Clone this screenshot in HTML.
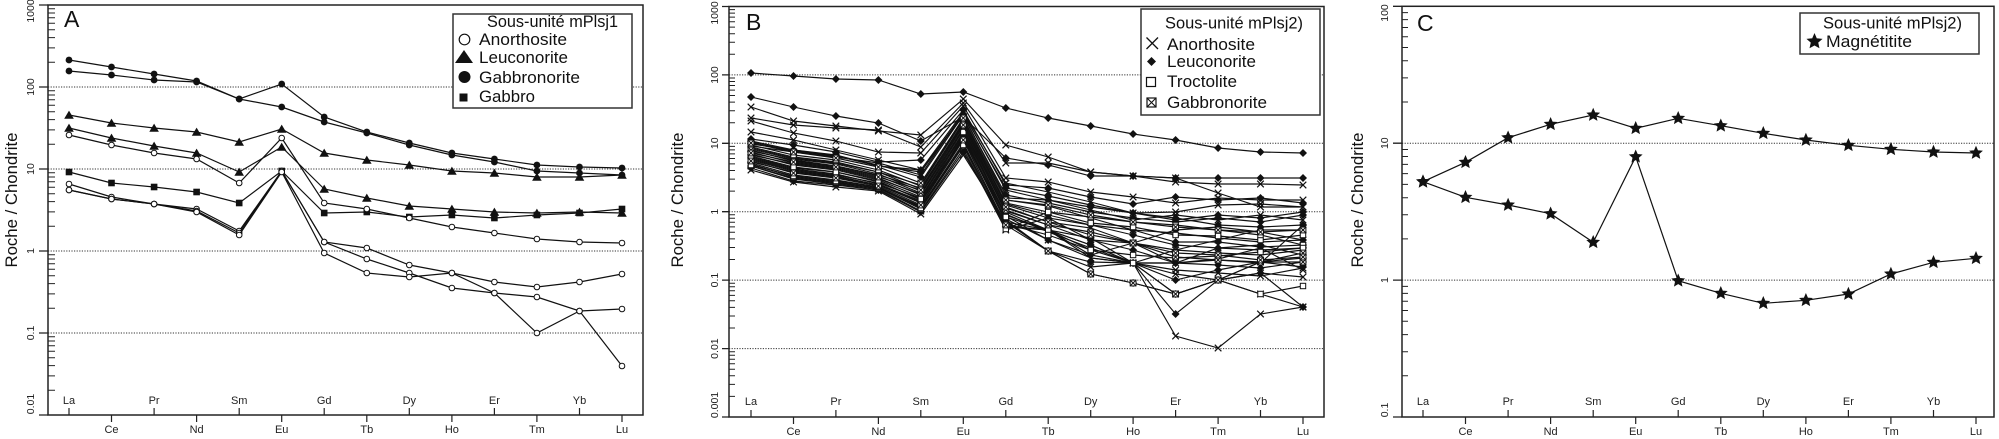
<!DOCTYPE html>
<html><head><meta charset="utf-8"><style>
html,body{margin:0;padding:0;background:#fff;width:1999px;height:439px;overflow:hidden}
svg{display:block}
text{font-family:"Liberation Sans",Arial,sans-serif;fill:#111}
.tk{font-size:11px;text-anchor:middle;fill:#222}
.yl{font-size:10.5px;text-anchor:middle;fill:#222}
.lg{font-size:16.5px}
.ax{font-size:17px;text-anchor:middle}
</style></head><body>
<svg width="1999" height="439" viewBox="0 0 1999 439" xmlns="http://www.w3.org/2000/svg">
<defs>
<marker id="oc" markerUnits="userSpaceOnUse" markerWidth="20" markerHeight="20" refX="10" refY="10"><circle cx="10" cy="10" r="2.8" fill="#fff" stroke="#111" stroke-width="1"/></marker>
<marker id="fc" markerUnits="userSpaceOnUse" markerWidth="20" markerHeight="20" refX="10" refY="10"><circle cx="10" cy="10" r="3.4" fill="#111"/></marker>
<marker id="tr" markerUnits="userSpaceOnUse" markerWidth="20" markerHeight="20" refX="10" refY="10"><polygon points="10,5.6 14.8,13.8 5.2,13.8" fill="#111"/></marker>
<marker id="sq" markerUnits="userSpaceOnUse" markerWidth="20" markerHeight="20" refX="10" refY="10"><rect x="6.7" y="6.7" width="6.6" height="6.6" fill="#111"/></marker>
<marker id="st" markerUnits="userSpaceOnUse" markerWidth="20" markerHeight="20" refX="10" refY="10"><polygon points="10,3.5 11.76,7.57 16.18,7.99 12.85,10.93 13.82,15.26 10,13 6.18,15.26 7.15,10.93 3.82,7.99 8.24,7.57" fill="#111" stroke="#111" stroke-width="0.6"/></marker>
<marker id="bd" markerUnits="userSpaceOnUse" markerWidth="20" markerHeight="20" refX="10" refY="10"><polygon points="10,6 14,10 10,14 6,10" fill="#111"/></marker>
<marker id="bx" markerUnits="userSpaceOnUse" markerWidth="20" markerHeight="20" refX="10" refY="10"><path d="M6.7,6.7L13.3,13.3M13.3,6.7L6.7,13.3" stroke="#111" stroke-width="1.2" fill="none"/></marker>
<marker id="bs" markerUnits="userSpaceOnUse" markerWidth="20" markerHeight="20" refX="10" refY="10"><rect x="7.3" y="7.3" width="5.4" height="5.4" fill="#fff" stroke="#111" stroke-width="1"/></marker>
<marker id="bq" markerUnits="userSpaceOnUse" markerWidth="20" markerHeight="20" refX="10" refY="10"><rect x="7.1" y="7.1" width="5.8" height="5.8" fill="#fff" stroke="#111" stroke-width="1"/><path d="M7.1,7.1L12.9,12.9M12.9,7.1L7.1,12.9" stroke="#111" stroke-width="1"/></marker>
</defs>

<!-- ================= PANEL A ================= -->
<path d="M48,87H643M48,169H643M48,251H643M48,333H643" stroke="#333" stroke-width="1" stroke-dasharray="1.2,1.4" fill="none"/>
<g fill="none" stroke="#111" stroke-width="1.2">
<g marker-start="url(#fc)" marker-mid="url(#fc)" marker-end="url(#fc)">
<polyline points="69,60 111.5,67 154.1,74 196.6,81 239.2,99 281.7,84 324.2,117 366.8,132 409.3,143 451.9,153 494.4,159 536.9,165 579.5,167 622,168"/>
<polyline points="69,71 111.5,75 154.1,80 196.6,82 239.2,99 281.7,107 324.2,122 366.8,133 409.3,145 451.9,155 494.4,162 536.9,171 579.5,173 622,175"/>
</g>
<g marker-start="url(#tr)" marker-mid="url(#tr)" marker-end="url(#tr)">
<polyline points="69,115 111.5,123 154.1,128 196.6,132 239.2,142 281.7,129 324.2,153 366.8,160 409.3,165 451.9,171 494.4,173 536.9,177 579.5,177 622,175"/>
<polyline points="69,128 111.5,138 154.1,146 196.6,153 239.2,172 281.7,147 324.2,189 366.8,198 409.3,206 451.9,209 494.4,212 536.9,213 579.5,212 622,213"/>
</g>
<g marker-start="url(#sq)" marker-mid="url(#sq)" marker-end="url(#sq)">
<polyline points="69,172 111.5,183 154.1,187 196.6,192 239.2,203 281.7,171 324.2,213 366.8,212 409.3,217 451.9,215 494.4,218 536.9,215 579.5,213 622,209"/>
</g>
<g marker-start="url(#oc)" marker-mid="url(#oc)" marker-end="url(#oc)">
<polyline points="69,135 111.5,145 154.1,153 196.6,159 239.2,183 281.7,138 324.2,203 366.8,209 409.3,218 451.9,227 494.4,233 536.9,239 579.5,242 622,243"/>
<polyline points="69,184 111.5,197 154.1,204 196.6,209 239.2,231 281.7,171 324.2,242 366.8,248 409.3,265 451.9,273 494.4,282 536.9,287 579.5,282 622,274"/>
<polyline points="69,190 111.5,199 154.1,204 196.6,211 239.2,233 281.7,171 324.2,242 366.8,259 409.3,273 451.9,288 494.4,293 536.9,297 579.5,311 622,309"/>
<polyline points="69,190 111.5,199 154.1,204 196.6,212 239.2,235 281.7,172 324.2,253 366.8,273 409.3,277 451.9,273 494.4,293 536.9,333 579.5,311 622,366"/>
</g>
</g>
<!-- legend A -->
<rect x="453" y="14" width="179" height="94" fill="#fff" stroke="#333" stroke-width="1.5"/>
<text class="lg" x="487" y="27" textLength="131" lengthAdjust="spacingAndGlyphs">Sous-unité mPlsj1</text>
<circle cx="464.5" cy="39.5" r="5.3" fill="#fff" stroke="#111" stroke-width="1.2"/>
<text class="lg" x="479" y="45" textLength="88" lengthAdjust="spacingAndGlyphs">Anorthosite</text>
<polygon points="464,50 473,63 455,63" fill="#111"/>
<text class="lg" x="479" y="63" textLength="89" lengthAdjust="spacingAndGlyphs">Leuconorite</text>
<circle cx="464.5" cy="77" r="6" fill="#111"/>
<text class="lg" x="479" y="83" textLength="101" lengthAdjust="spacingAndGlyphs">Gabbronorite</text>
<rect x="459.5" y="93.5" width="8" height="8" fill="#111"/>
<text class="lg" x="479" y="102" textLength="56" lengthAdjust="spacingAndGlyphs">Gabbro</text>
<!-- axes A -->
<rect x="48" y="5" width="595" height="410" fill="none" stroke="#222" stroke-width="1.5"/>
<path d="M39,5H48M39,87H48M39,169H48M39,251H48M39,333H48M39,415H48" stroke="#222" stroke-width="1.3"/>
<path d="M48,390.3h7M48,375.9h7M48,365.6h7M48,357.7h7M48,351.2h7M48,345.7h7M48,341h7M48,336.7h7M48,308.3h7M48,293.9h7M48,283.6h7M48,275.7h7M48,269.2h7M48,263.7h7M48,259h7M48,254.7h7M48,226.3h7M48,211.9h7M48,201.6h7M48,193.7h7M48,187.2h7M48,181.7h7M48,177h7M48,172.7h7M48,144.3h7M48,129.9h7M48,119.6h7M48,111.7h7M48,105.2h7M48,99.7h7M48,95h7M48,90.7h7M48,62.3h7M48,47.9h7M48,37.6h7M48,29.7h7M48,23.2h7M48,17.7h7M48,13h7M48,8.7h7" stroke="#222" stroke-width="1"/>
<path d="M69,415v-7M154.1,415v-7M239.2,415v-7M324.2,415v-7M409.3,415v-7M494.4,415v-7M579.5,415v-7M111.5,415v7M196.6,415v7M281.7,415v7M366.8,415v7M451.9,415v7M536.9,415v7M622,415v7" stroke="#222" stroke-width="1.2"/>
<text class="tk" x="69" y="404">La</text><text class="tk" x="154.1" y="404">Pr</text><text class="tk" x="239.2" y="404">Sm</text><text class="tk" x="324.2" y="404">Gd</text><text class="tk" x="409.3" y="404">Dy</text><text class="tk" x="494.4" y="404">Er</text><text class="tk" x="579.5" y="404">Yb</text>
<text class="tk" x="111.5" y="433">Ce</text><text class="tk" x="196.6" y="433">Nd</text><text class="tk" x="281.7" y="433">Eu</text><text class="tk" x="366.8" y="433">Tb</text><text class="tk" x="451.9" y="433">Ho</text><text class="tk" x="536.9" y="433">Tm</text><text class="tk" x="622" y="433">Lu</text>
<text class="yl" transform="translate(34,11) rotate(-90)">1000</text>
<text class="yl" transform="translate(34,87) rotate(-90)">100</text>
<text class="yl" transform="translate(34,169) rotate(-90)">10</text>
<text class="yl" transform="translate(34,251) rotate(-90)">1</text>
<text class="yl" transform="translate(34,333) rotate(-90)">0.1</text>
<text class="yl" transform="translate(34,404) rotate(-90)">0.01</text>
<text class="ax" transform="translate(17,200) rotate(-90)" textLength="135" lengthAdjust="spacingAndGlyphs">Roche / Chondrite</text>
<text x="64" y="27" font-size="23">A</text>

<!-- ================= PANEL B ================= -->
<path d="M729,74.9H1324M729,143.3H1324M729,211.7H1324M729,280.1H1324M729,348.6H1324" stroke="#333" stroke-width="1" stroke-dasharray="1.2,1.4" fill="none"/>
<g fill="none" stroke="#111" stroke-width="1.15">
<g marker-start="url(#bd)" marker-mid="url(#bd)" marker-end="url(#bd)">
<polyline points="751,73 793.5,76 835.9,79 878.4,80 920.8,94 963.3,92 1005.8,108 1048.2,118 1090.7,126 1133.1,134 1175.6,140 1218.1,148 1260.5,152 1303,153"/>
<polyline points="751,97 793.5,107 835.9,116 878.4,123 920.8,141 963.3,117 1005.8,158 1048.2,165 1090.7,176 1133.1,176 1175.6,178 1218.1,178 1260.5,178 1303,178"/>
<polyline points="751,139 793.5,145 835.9,152 878.4,162 920.8,160 963.3,110 1005.8,185 1048.2,188 1090.7,197 1133.1,204 1175.6,197 1218.1,200 1260.5,198 1303,203"/>
<polyline points="751,141 793.5,150 835.9,156 878.4,165 920.8,177 963.3,115 1005.8,198 1048.2,200 1090.7,207 1133.1,213 1175.6,218 1218.1,225 1260.5,227 1303,225"/>
<polyline points="751,147 793.5,157 835.9,162 878.4,172 920.8,189 963.3,122 1005.8,205 1048.2,218 1090.7,225 1133.1,230 1175.6,242 1218.1,242 1260.5,247 1303,245"/>
<polyline points="751,152 793.5,163 835.9,168 878.4,178 920.8,195 963.3,128 1005.8,212 1048.2,230 1090.7,238 1133.1,263 1175.6,263 1218.1,260 1260.5,263 1303,225"/>
<polyline points="751,158 793.5,169 835.9,174 878.4,184 920.8,201 963.3,134 1005.8,220 1048.2,251 1090.7,262 1133.1,263 1175.6,314 1218.1,280 1260.5,273 1303,307"/>
<polyline points="751,163 793.5,175 835.9,180 878.4,187 920.8,207 963.3,143 1005.8,227 1048.2,230 1090.7,255 1133.1,243 1175.6,230 1218.1,227 1260.5,232 1303,240"/>
<polyline points="751,168 793.5,181 835.9,185 878.4,190 920.8,212 963.3,152 1005.8,226 1048.2,230 1090.7,245 1133.1,263 1175.6,263 1218.1,248 1260.5,245 1303,255"/>
<polyline points="751,144 793.5,150 835.9,155 878.4,166 920.8,170 963.3,116 1005.8,195 1048.2,203 1090.7,212 1133.1,218 1175.6,222 1218.1,218 1260.5,222 1303,215"/>
<polyline points="751,166 793.5,178 835.9,183 878.4,188 920.8,206 963.3,135 1005.8,221 1048.2,251 1090.7,274 1133.1,283 1175.6,294 1218.1,280 1260.5,262 1303,267"/>
<polyline points="751,142 793.5,151 835.9,156 878.4,166 920.8,172 963.3,114 1005.8,188 1048.2,196 1090.7,205 1133.1,213 1175.6,220 1218.1,215 1260.5,218 1303,212"/>
<polyline points="751,151 793.5,160 835.9,166 878.4,175 920.8,188 963.3,123 1005.8,204 1048.2,215 1090.7,225 1133.1,235 1175.6,245 1218.1,248 1260.5,250 1303,248"/>
<polyline points="751,155 793.5,164 835.9,169 878.4,179 920.8,194 963.3,129 1005.8,211 1048.2,225 1090.7,240 1133.1,250 1175.6,263 1218.1,265 1260.5,268 1303,262"/>
<polyline points="751,162 793.5,172 835.9,177 878.4,185 920.8,202 963.3,139 1005.8,219 1048.2,240 1090.7,255 1133.1,263 1175.6,280 1218.1,270 1260.5,262 1303,258"/>
</g>
<g marker-start="url(#bx)" marker-mid="url(#bx)" marker-end="url(#bx)">
<polyline points="751,107 793.5,121 835.9,126 878.4,131 920.8,135 963.3,99 1005.8,145 1048.2,157 1090.7,172 1133.1,176 1175.6,182 1218.1,184 1260.5,184 1303,185"/>
<polyline points="751,118 793.5,125 835.9,128 878.4,130 920.8,147 963.3,103 1005.8,163 1048.2,163 1090.7,172 1133.1,176 1175.6,178 1218.1,193 1260.5,207 1303,207"/>
<polyline points="751,121 793.5,133 835.9,141 878.4,152 920.8,153 963.3,106 1005.8,178 1048.2,182 1090.7,192 1133.1,197 1175.6,203 1218.1,198 1260.5,200 1303,200"/>
<polyline points="751,132 793.5,140 835.9,150 878.4,160 920.8,170 963.3,112 1005.8,183 1048.2,192 1090.7,202 1133.1,213 1175.6,212 1218.1,205 1260.5,204 1303,207"/>
<polyline points="751,149 793.5,159 835.9,164 878.4,174 920.8,191 963.3,124 1005.8,208 1048.2,222 1090.7,228 1133.1,243 1175.6,250 1218.1,253 1260.5,255 1303,250"/>
<polyline points="751,154 793.5,165 835.9,170 878.4,180 920.8,197 963.3,130 1005.8,215 1048.2,230 1090.7,245 1133.1,263 1175.6,274 1218.1,280 1260.5,273 1303,277"/>
<polyline points="751,160 793.5,171 835.9,176 878.4,185 920.8,203 963.3,137 1005.8,222 1048.2,251 1090.7,267 1133.1,263 1175.6,336 1218.1,348 1260.5,314 1303,307"/>
<polyline points="751,166 793.5,179 835.9,184 878.4,189 920.8,211 963.3,149 1005.8,230 1048.2,218 1090.7,240 1133.1,243 1175.6,263 1218.1,259 1260.5,248 1303,270"/>
<polyline points="751,170 793.5,182 835.9,187 878.4,191 920.8,214 963.3,155 1005.8,222 1048.2,230 1090.7,258 1133.1,263 1175.6,250 1218.1,240 1260.5,230 1303,230"/>
<polyline points="751,146 793.5,152 835.9,157 878.4,163 920.8,175 963.3,113 1005.8,190 1048.2,200 1090.7,210 1133.1,220 1175.6,215 1218.1,220 1260.5,215 1303,220"/>
<polyline points="751,157 793.5,168 835.9,172 878.4,181 920.8,200 963.3,138 1005.8,216 1048.2,240 1090.7,258 1133.1,263 1175.6,294 1218.1,280 1260.5,294 1303,307"/>
<polyline points="751,148 793.5,158 835.9,163 878.4,172 920.8,185 963.3,119 1005.8,200 1048.2,206 1090.7,218 1133.1,230 1175.6,233 1218.1,238 1260.5,242 1303,240"/>
<polyline points="751,159 793.5,170 835.9,175 878.4,183 920.8,198 963.3,133 1005.8,214 1048.2,232 1090.7,248 1133.1,263 1175.6,270 1218.1,273 1260.5,276 1303,268"/>
</g>
<g marker-start="url(#bs)" marker-mid="url(#bs)" marker-end="url(#bs)">
<polyline points="751,145 793.5,155 835.9,160 878.4,170 920.8,186 963.3,120 1005.8,203 1048.2,212 1090.7,223 1133.1,227 1175.6,235 1218.1,236 1260.5,240 1303,235"/>
<polyline points="751,156 793.5,167 835.9,172 878.4,182 920.8,199 963.3,132 1005.8,217 1048.2,230 1090.7,250 1133.1,263 1175.6,294 1218.1,280 1260.5,294 1303,286"/>
<polyline points="751,164 793.5,177 835.9,182 878.4,188 920.8,209 963.3,146 1005.8,229 1048.2,212 1090.7,217 1133.1,222 1175.6,225 1218.1,230 1260.5,235 1303,245"/>
<polyline points="751,165 793.5,176 835.9,181 878.4,187 920.8,208 963.3,145 1005.8,224 1048.2,235 1090.7,250 1133.1,255 1175.6,258 1218.1,256 1260.5,252 1303,248"/>
</g>
<g marker-start="url(#bq)" marker-mid="url(#bq)" marker-end="url(#bq)">
<polyline points="751,143 793.5,152 835.9,158 878.4,167 920.8,183 963.3,118 1005.8,200 1048.2,205 1090.7,215 1133.1,222 1175.6,227 1218.1,230 1260.5,232 1303,230"/>
<polyline points="751,150 793.5,161 835.9,166 878.4,176 920.8,193 963.3,126 1005.8,210 1048.2,225 1090.7,232 1133.1,243 1175.6,257 1218.1,260 1260.5,262 1303,253"/>
<polyline points="751,161 793.5,173 835.9,178 878.4,186 920.8,205 963.3,140 1005.8,225 1048.2,251 1090.7,274 1133.1,283 1175.6,294 1218.1,280 1260.5,262 1303,262"/>
<polyline points="751,153 793.5,162 835.9,167 878.4,177 920.8,190 963.3,125 1005.8,207 1048.2,222 1090.7,235 1133.1,243 1175.6,253 1218.1,255 1260.5,260 1303,257"/>
</g>
</g>
<!-- legend B -->
<rect x="1141" y="9" width="179" height="106" fill="#fff" stroke="#333" stroke-width="1.5"/>
<text class="lg" x="1165" y="28.5" textLength="138" lengthAdjust="spacingAndGlyphs">Sous-unité mPlsj2)</text>
<path d="M1146.5,37.5L1158,49M1158,37.5L1146.5,49" stroke="#111" stroke-width="1.3"/>
<text class="lg" x="1167" y="50" textLength="88" lengthAdjust="spacingAndGlyphs">Anorthosite</text>
<polygon points="1151.5,57 1156,61.5 1151.5,66 1147,61.5" fill="#111"/>
<text class="lg" x="1167" y="67" textLength="89" lengthAdjust="spacingAndGlyphs">Leuconorite</text>
<rect x="1146.5" y="77.5" width="9" height="9" fill="#fff" stroke="#111" stroke-width="1.2"/>
<text class="lg" x="1167" y="87" textLength="70" lengthAdjust="spacingAndGlyphs">Troctolite</text>
<rect x="1147" y="98" width="9" height="9" fill="#fff" stroke="#111" stroke-width="1.2"/>
<path d="M1147,98L1156,107M1156,98L1147,107" stroke="#111" stroke-width="1.1"/>
<text class="lg" x="1167" y="108" textLength="100" lengthAdjust="spacingAndGlyphs">Gabbronorite</text>
<!-- axes B -->
<rect x="729" y="6.5" width="595" height="410.5" fill="none" stroke="#222" stroke-width="1.5"/>
<path d="M722,6.5H729M722,74.9H729M722,143.3H729M722,211.7H729M722,280.1H729M722,348.6H729M722,417H729" stroke="#222" stroke-width="1.3"/>
<path d="M729,396.4h6M729,384.4h6M729,375.8h6M729,369.2h6M729,363.8h6M729,359.2h6M729,355.2h6M729,351.7h6M729,328h6M729,316h6M729,307.4h6M729,300.8h6M729,295.4h6M729,290.8h6M729,286.8h6M729,283.3h6M729,259.5h6M729,247.5h6M729,238.9h6M729,232.3h6M729,226.9h6M729,222.3h6M729,218.3h6M729,214.8h6M729,191.1h6M729,179.1h6M729,170.5h6M729,163.9h6M729,158.5h6M729,153.9h6M729,149.9h6M729,146.4h6M729,122.7h6M729,110.7h6M729,102.1h6M729,95.5h6M729,90.1h6M729,85.5h6M729,81.5h6M729,78h6M729,54.3h6M729,42.3h6M729,33.7h6M729,27.1h6M729,21.7h6M729,17.1h6M729,13.1h6M729,9.6h6" stroke="#222" stroke-width="1"/>
<path d="M751,417v-7M835.9,417v-7M920.8,417v-7M1005.8,417v-7M1090.7,417v-7M1175.6,417v-7M1260.5,417v-7M793.5,417v7M878.4,417v7M963.3,417v7M1048.2,417v7M1133.1,417v7M1218.1,417v7M1303,417v7" stroke="#222" stroke-width="1.2"/>
<text class="tk" x="751" y="405">La</text><text class="tk" x="835.9" y="405">Pr</text><text class="tk" x="920.8" y="405">Sm</text><text class="tk" x="1005.8" y="405">Gd</text><text class="tk" x="1090.7" y="405">Dy</text><text class="tk" x="1175.6" y="405">Er</text><text class="tk" x="1260.5" y="405">Yb</text>
<text class="tk" x="793.5" y="435">Ce</text><text class="tk" x="878.4" y="435">Nd</text><text class="tk" x="963.3" y="435">Eu</text><text class="tk" x="1048.2" y="435">Tb</text><text class="tk" x="1133.1" y="435">Ho</text><text class="tk" x="1218.1" y="435">Tm</text><text class="tk" x="1303" y="435">Lu</text>
<text class="yl" transform="translate(718,13) rotate(-90)">1000</text>
<text class="yl" transform="translate(718,75) rotate(-90)">100</text>
<text class="yl" transform="translate(718,143.3) rotate(-90)">10</text>
<text class="yl" transform="translate(718,211.7) rotate(-90)">1</text>
<text class="yl" transform="translate(718,280.1) rotate(-90)">0.1</text>
<text class="yl" transform="translate(718,348.6) rotate(-90)">0.01</text>
<text class="yl" transform="translate(718,405) rotate(-90)">0.001</text>
<text class="ax" transform="translate(683,200) rotate(-90)" textLength="135" lengthAdjust="spacingAndGlyphs">Roche / Chondrite</text>
<text x="746" y="30" font-size="23">B</text>

<!-- ================= PANEL C ================= -->
<path d="M1402,143.2H1994M1402,280.1H1994" stroke="#333" stroke-width="1" stroke-dasharray="1.2,1.4" fill="none"/>
<g fill="none" stroke="#111" stroke-width="1.2" marker-start="url(#st)" marker-mid="url(#st)" marker-end="url(#st)">
<polyline points="1423,181.7 1465.5,162.3 1508.1,137.7 1550.6,124.3 1593.2,115 1635.7,128.3 1678.2,118.3 1720.8,125.7 1763.3,133.3 1805.9,140 1848.4,145.3 1890.9,149.3 1933.5,152 1976,153"/>
<polyline points="1423,181.7 1465.5,197.3 1508.1,205 1550.6,213.7 1593.2,242.3 1635.7,156.7 1678.2,280.7 1720.8,293.3 1763.3,303.3 1805.9,300.3 1848.4,294 1890.9,274 1933.5,262.3 1976,258.3"/>
</g>
<!-- legend C -->
<rect x="1800" y="13" width="179" height="41" fill="#fff" stroke="#333" stroke-width="1.5"/>
<text class="lg" x="1823" y="28.5" textLength="139" lengthAdjust="spacingAndGlyphs">Sous-unité mPlsj2)</text>
<polygon points="1814.5,34 1816.5,38.6 1821.6,39.2 1817.8,42.5 1818.9,47.5 1814.5,45 1810.1,47.5 1811.2,42.5 1807.4,39.2 1812.5,38.6" fill="#111" stroke="#111" stroke-width="0.8"/>
<text class="lg" x="1826" y="47" textLength="86" lengthAdjust="spacingAndGlyphs">Magnétitite</text>
<!-- axes C -->
<rect x="1402" y="6.3" width="592" height="410.7" fill="none" stroke="#222" stroke-width="1.5"/>
<path d="M1393,6.3H1402M1393,143.2H1402M1393,280.1H1402M1393,417H1402" stroke="#222" stroke-width="1.3"/>
<path d="M1402,375.8h6M1402,351.7h6M1402,334.6h6M1402,321.3h6M1402,310.5h6M1402,301.3h6M1402,293.4h6M1402,286.4h6M1402,238.9h6M1402,214.8h6M1402,197.7h6M1402,184.4h6M1402,173.6h6M1402,164.4h6M1402,156.5h6M1402,149.5h6M1402,102h6M1402,77.9h6M1402,60.8h6M1402,47.5h6M1402,36.7h6M1402,27.5h6M1402,19.6h6M1402,12.6h6" stroke="#222" stroke-width="1"/>
<path d="M1423,417v-7M1508.1,417v-7M1593.2,417v-7M1678.2,417v-7M1763.3,417v-7M1848.4,417v-7M1933.5,417v-7M1465.5,417v7M1550.6,417v7M1635.7,417v7M1720.8,417v7M1805.9,417v7M1890.9,417v7M1976,417v7" stroke="#222" stroke-width="1.2"/>
<text class="tk" x="1423" y="405">La</text><text class="tk" x="1508.1" y="405">Pr</text><text class="tk" x="1593.2" y="405">Sm</text><text class="tk" x="1678.2" y="405">Gd</text><text class="tk" x="1763.3" y="405">Dy</text><text class="tk" x="1848.4" y="405">Er</text><text class="tk" x="1933.5" y="405">Yb</text>
<text class="tk" x="1465.5" y="435">Ce</text><text class="tk" x="1550.6" y="435">Nd</text><text class="tk" x="1635.7" y="435">Eu</text><text class="tk" x="1720.8" y="435">Tb</text><text class="tk" x="1805.9" y="435">Ho</text><text class="tk" x="1890.9" y="435">Tm</text><text class="tk" x="1976" y="435">Lu</text>
<text class="yl" transform="translate(1388,13) rotate(-90)">100</text>
<text class="yl" transform="translate(1388,143.2) rotate(-90)">10</text>
<text class="yl" transform="translate(1388,280.1) rotate(-90)">1</text>
<text class="yl" transform="translate(1388,410) rotate(-90)">0.1</text>
<text class="ax" transform="translate(1363,200) rotate(-90)" textLength="135" lengthAdjust="spacingAndGlyphs">Roche / Chondrite</text>
<text x="1417" y="31" font-size="23">C</text>
</svg>
</body></html>
